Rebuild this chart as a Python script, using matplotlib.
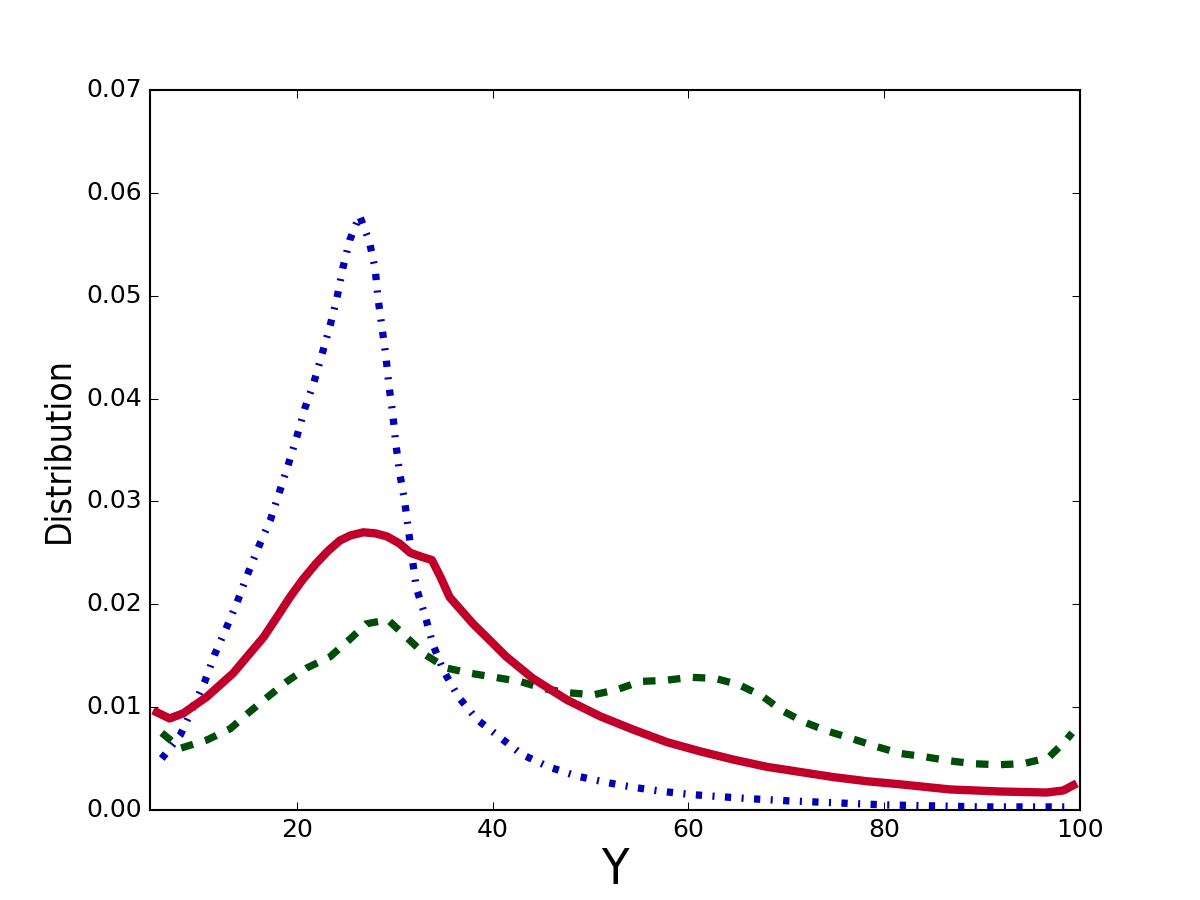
import matplotlib
matplotlib.use("Agg")
import matplotlib.pyplot as plt
from matplotlib import font_manager

plt.style.use("classic")

# Red solid series
red_x = [5.7, 7.0, 8.4, 10.8, 13.5, 15.0, 16.6, 18.0, 19.3, 20.6, 22.0, 23.2, 24.4,
         25.5, 26.8, 28.0, 29.2, 30.5, 31.6, 32.8, 33.8, 34.7, 35.6, 36.8, 38.0,
         39.5, 41.4, 44.1, 47.6, 51.0, 54.4, 57.8, 61.2, 64.6, 68.0, 71.4,
         74.8, 78.2, 81.6, 86.7, 91.8, 96.6, 98.3, 99.3]
red_y = [0.0095, 0.0089, 0.0094, 0.0110, 0.0133, 0.0150, 0.0168, 0.0188, 0.0207,
         0.0224, 0.0240, 0.0252, 0.0262, 0.0267, 0.0270, 0.0269, 0.0266, 0.0259,
         0.0250, 0.0246, 0.0243, 0.0226, 0.0207, 0.0194, 0.0181, 0.0167, 0.0149,
         0.0128, 0.0107, 0.0091, 0.0078, 0.0066, 0.0057, 0.0049, 0.0042, 0.0037,
         0.0032, 0.0028, 0.0025, 0.0020, 0.0018, 0.0017, 0.0019, 0.0024]

# Green dashed series
green_x = [6.2, 8.1, 10.8, 13.2, 15.0, 16.9, 19.0, 21.0, 23.4, 25.3, 27.1, 29.3, 31.2,
           33.1, 35.3, 37.7, 40.2, 42.8, 45.2, 47.7, 50.3, 52.7, 55.1, 57.6, 60.2,
           62.7, 65.1, 67.5, 69.5, 71.7, 74.1, 76.5, 79.1, 81.6, 84.0, 86.5, 89.1,
           91.6, 94.2, 96.8, 98.5, 99.2]
green_y = [0.0075, 0.0060, 0.0068, 0.0079, 0.0094, 0.0109, 0.0125, 0.0138, 0.0149,
           0.0165, 0.0181, 0.0185, 0.0168, 0.0151, 0.0138, 0.0133, 0.0129, 0.0125,
           0.0118, 0.0114, 0.0112, 0.0117, 0.0125, 0.0126, 0.0129, 0.0128, 0.0122,
           0.0111, 0.0097, 0.0086, 0.0077, 0.0070, 0.0062, 0.0055, 0.0052, 0.0048,
           0.0045, 0.0044, 0.0045, 0.0051, 0.0067, 0.0075]

# Blue dash-dot series
blue_x = [6.2, 8.1, 10.6, 11.6, 12.8, 13.9, 15.0, 16.1, 17.3, 19.1, 20.0, 20.8, 21.75,
          22.6, 23.4, 24.1, 24.7, 25.4, 26.4, 27.4, 28.0, 28.3, 28.7, 29.1, 29.4,
          29.8, 30.1, 30.5, 31.0, 31.4, 32.2, 33.1, 33.9, 34.95, 36.5, 38.4, 40.7,
          43.0, 45.7, 48.6, 51.5, 54.4, 57.4, 60.3, 63.2, 66.3, 70.0, 75.0, 80.0,
          85.0, 90.0, 95.0, 99.0]
blue_y = [0.0050, 0.0073, 0.0125, 0.0151, 0.0177, 0.0202, 0.0230, 0.0256, 0.0282,
          0.0335, 0.0363, 0.0390, 0.0416, 0.0444, 0.0471, 0.0498, 0.0527, 0.0554,
          0.0578, 0.0553, 0.0526, 0.0497, 0.0469, 0.0441, 0.0413, 0.0385, 0.0357,
          0.0328, 0.0301, 0.0272, 0.0216, 0.0189, 0.0161, 0.0136, 0.0110, 0.0088,
          0.0071, 0.0054, 0.0042, 0.0033, 0.0027, 0.0022, 0.0018, 0.0015, 0.0013,
          0.0011, 0.0009, 0.0007, 0.0005, 0.0004, 0.0003, 0.0003, 0.0003]

fig = plt.figure(figsize=(8, 6), dpi=150, facecolor="white")
ax = fig.add_subplot(111)

ax.plot(blue_x, blue_y, color="#0000b8", linewidth=3.5, linestyle=(0, (3, 5, 1, 5)),
        dash_capstyle="butt")
ax.plot(green_x, green_y, color="#004d0a", linewidth=3.5, linestyle=(0, (6, 6)),
        dash_capstyle="butt")
ax.plot(red_x, red_y, color="#c0002a", linewidth=4, linestyle="-",
        solid_joinstyle="round")

ax.set_xlim(5, 100)
ax.set_ylim(0, 0.07)
ax.set_xticks([20, 40, 60, 80, 100])
ax.set_yticks([0.0, 0.01, 0.02, 0.03, 0.04, 0.05, 0.06, 0.07])
ax.set_yticklabels(["0.00", "0.01", "0.02", "0.03", "0.04", "0.05", "0.06", "0.07"])

# Condensed font for axis labels if available
names = {f.name for f in font_manager.fontManager.ttflist}
cond = None
for f in font_manager.fontManager.ttflist:
    if "Condensed" in f.fname and "DejaVuSans" in f.fname and "Bold" not in f.fname \
            and "Oblique" not in f.fname:
        cond = font_manager.FontProperties(fname=f.fname)
        break
if cond is None and "Liberation Sans Narrow" in names:
    cond = font_manager.FontProperties(family="Liberation Sans Narrow")
if cond is None:
    cond = font_manager.FontProperties(family="DejaVu Sans")

fx = cond.copy()
fx.set_size(24)
fy = cond.copy()
fy.set_size(17)
ax.set_xlabel("Y", fontproperties=fx, labelpad=2)
ax.set_ylabel("Distribution", fontproperties=fy)

fig.savefig("out.png", dpi=150, facecolor="white")
